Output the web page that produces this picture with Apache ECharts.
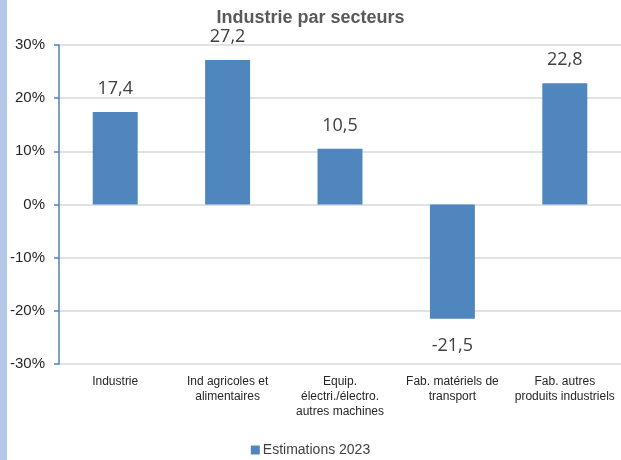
<!DOCTYPE html>
<html>
<head>
<meta charset="utf-8">
<script src="https://cdn.jsdelivr.net/npm/echarts@6/dist/echarts.min.js"></script>
<style>
  html, body { margin: 0; padding: 0; background: #fff; }
  #chart { width: 621px; height: 460px; }
</style>
</head>
<body>
<div id="chart"></div>
<script>
// Secteurs industriels et estimations 2023 (en %)
const categories = [
  'Industrie',
  'Ind agricoles et\nalimentaires',
  'Equip.\nélectri./électro.\nautres machines',
  'Fab. matériels de\ntransport',
  'Fab. autres\nproduits industriels'
];
const estimations2023 = [17.4, 27.2, 10.5, -21.5, 22.8];
const seriesName = 'Estimations 2023';
const chartTitle = 'Industrie par secteurs';

const chart = echarts.init(document.getElementById('chart'));
const fmt = v => String(v).replace('.', ',');

chart.setOption({
  animation: false,
  textStyle: { fontFamily: 'Liberation Sans, Arial, sans-serif' },
  graphic: [{
    type: 'rect',
    shape: { x: 0, y: 0, width: 7, height: 460 },
    style: { fill: '#b4c7e7' },
    silent: true
  }],
  title: {
    text: chartTitle,
    left: 'center',
    top: 4,
    textStyle: { fontSize: 18, fontWeight: 'bold', color: '#595959', fontFamily: 'Liberation Sans, Arial, sans-serif' }
  },
  legend: {
    bottom: -2,
    left: 'center',
    itemWidth: 9,
    itemHeight: 9,
    itemGap: 4,
    icon: 'rect',
    textStyle: { fontSize: 14, color: '#404040', padding: [0, 0, 0, -2] },
    data: [seriesName]
  },
  grid: { left: 59, right: 0, top: 45, bottom: 96, containLabel: false },
  xAxis: {
    type: 'category',
    data: categories,
    axisLine: { show: false },
    axisTick: { show: false },
    axisLabel: {
      interval: 0,
      fontSize: 12,
      color: '#262626',
      lineHeight: 15,
      margin: 10
    }
  },
  yAxis: {
    type: 'value',
    min: -30,
    max: 30,
    interval: 10,
    axisLine: { show: true, lineStyle: { color: '#4f81bd', width: 1.5 } },
    axisTick: { show: true, length: 5, inside: false, lineStyle: { color: '#4f81bd', width: 1.5 } },
    axisLabel: { fontSize: 15, color: '#262626', formatter: v => v + '%', margin: 14 },
    splitLine: { lineStyle: { color: '#d9d9d9', width: 1.5 } }
  },
  series: [{
    name: seriesName,
    type: 'bar',
    data: estimations2023.map(v => ({
      value: v,
      label: v < 0 ? { position: 'bottom', distance: 18 } : { position: 'top', distance: 14 }
    })),
    barWidth: '40%',
    itemStyle: { color: '#4f86bd' },
    label: {
      show: true,
      fontSize: 18,
      color: '#404040',
      fontFamily: 'Open Sans, Liberation Sans, sans-serif',
      formatter: p => fmt(p.value)
    }
  }]
});
</script>
</body>
</html>
